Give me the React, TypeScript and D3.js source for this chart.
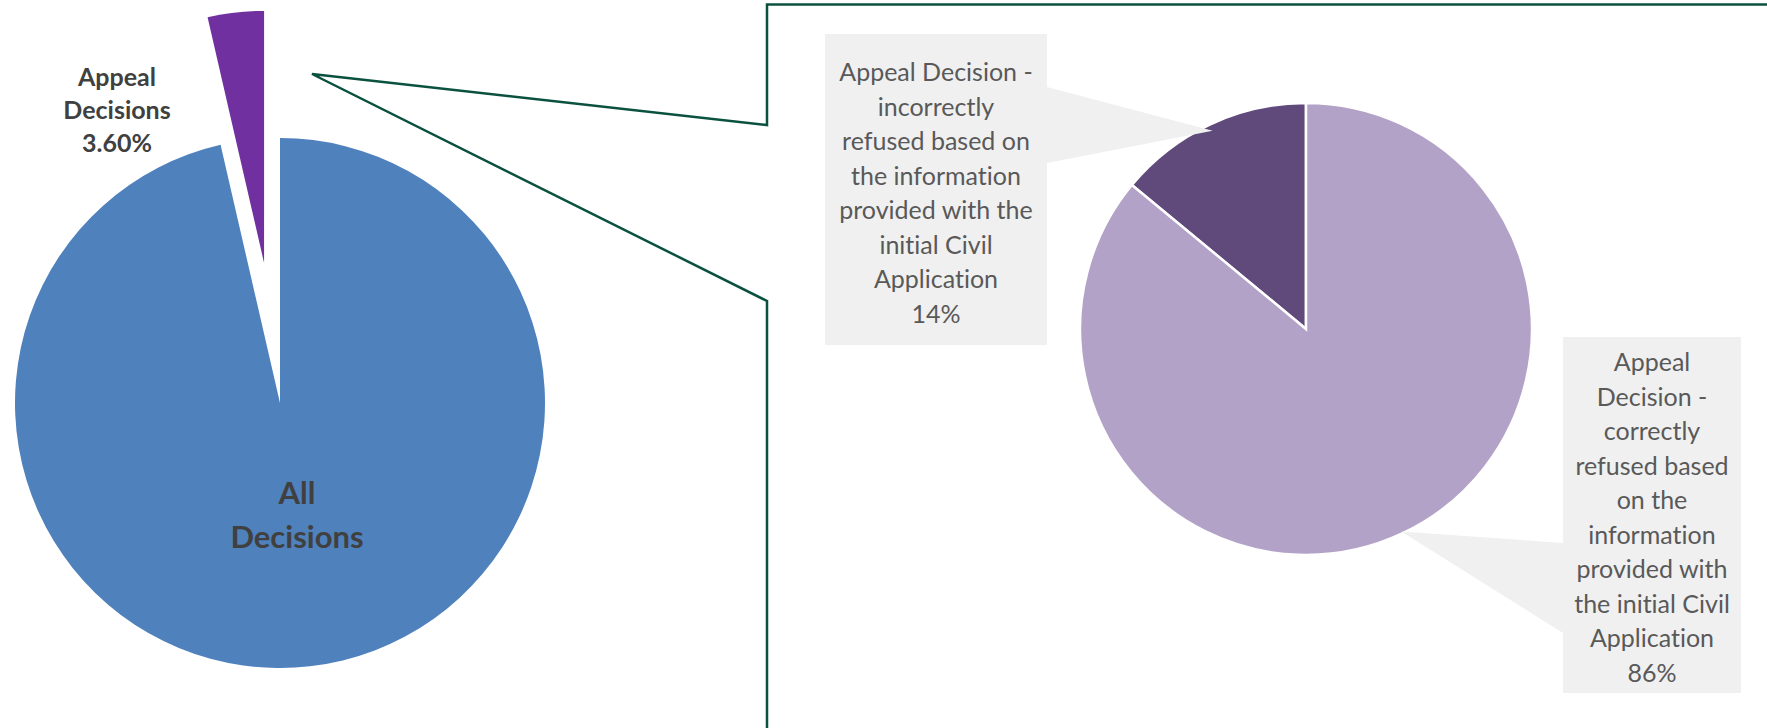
import React from "react";
import * as d3 from "d3";

const mainCategories = ["All Decisions", "Appeal Decisions"];
const mainValues = [96.4, 3.6];
const mainColors = ["#4f81bd", "#7030a0"];

const subCategories = [
  "Appeal Decision - incorrectly refused based on the information provided with the initial Civil Application",
  "Appeal Decision - correctly refused based on the information provided with the initial Civil Application",
];
const subValues = [14, 86];
const subColors = ["#604a7b", "#b3a2c7"];

const subLabelLines = [
  ["Appeal Decision -", "incorrectly", "refused based on", "the information", "provided with the", "initial Civil", "Application", "14%"],
  ["Appeal", "Decision -", "correctly", "refused based", "on the", "information", "provided with", "the initial Civil", "Application", "86%"],
];

const W = 1767;
const H = 728;
const FONT = "Lato, 'Open Sans', sans-serif";

export default function App() {
  // main pie
  const mc = { x: 280, y: 403 };
  const mainR = 265;
  const explodedR = 252;
  const explode = 141;
  const pieMain = d3.pie<number>().sort(null).startAngle(0).endAngle(2 * Math.PI)(mainValues);
  const arcMain = d3.arc<d3.PieArcDatum<number>>().innerRadius(0);

  // sub pie: small slice goes counter-clockwise from the top
  const sc = { x: 1306, y: 329 };
  const subR = 226;
  const subStart = -(subValues[0] / d3.sum(subValues)) * 2 * Math.PI;
  const pieSub = d3.pie<number>().sort(null).startAngle(subStart).endAngle(subStart + 2 * Math.PI)(subValues);
  const arcSub = d3.arc<d3.PieArcDatum<number>>().innerRadius(0).outerRadius(subR);

  const mid = (d: d3.PieArcDatum<number>) => (d.startAngle + d.endAngle) / 2;
  const polar = (a: number, r: number, c: { x: number; y: number }) => [c.x + r * Math.sin(a), c.y - r * Math.cos(a)];

  const boxes = [
    { x0: 825, x1: 1047, y0: 34, y1: 345, first: 72, side: "right", b0: 87, b1: 163, tipR: 0.97 },
    { x0: 1563, x1: 1741, y0: 337, y1: 693, first: 362, side: "left", b0: 543, b1: 633, tipR: 0.99 },
  ];
  const lh = 34.5;
  const fs = 25;
  const txtStyle = { fontVariantLigatures: "none" as const };

  return (
    <svg width={W} height={H} style={{ position: "absolute", left: 0, top: 0, display: "block", background: "#fff" }}>
      {/* main pie */}
      {pieMain.map((d, i) => {
        const isExp = i === 1;
        const off = isExp ? polar(mid(d), explode, { x: 0, y: 0 }) : [0, 0];
        return (
          <path
            key={mainCategories[i]}
            d={arcMain.outerRadius(isExp ? explodedR : mainR)(d) || ""}
            transform={`translate(${mc.x + off[0]},${mc.y + off[1]})`}
            fill={mainColors[i]}
          />
        );
      })}
      <text x={117} fontFamily={FONT} fontWeight={700} fontSize={25} fill="#404040" textAnchor="middle" style={txtStyle}>
        <tspan x={117} y={86}>Appeal</tspan>
        <tspan x={117} y={119}>Decisions</tspan>
        <tspan x={117} y={152}>{d3.format(".2f")(mainValues[1]) + "%"}</tspan>
      </text>
      <text fontFamily={FONT} fontWeight={700} fontSize={31} fill="#404040" textAnchor="middle" style={txtStyle}>
        <tspan x={297} y={504}>All</tspan>
        <tspan x={297} y={548}>Decisions</tspan>
      </text>

      {/* connector */}
      <path
        d={`M${W},4.5 L767,4.5 L767,125 L312,74 L767,301 L767,${H}`}
        fill="none"
        stroke="#0b5140"
        strokeWidth={2.5}
        strokeLinejoin="miter"
      />

      {/* sub pie */}
      {pieSub.map((d, i) => (
        <path
          key={subCategories[i]}
          d={arcSub(d) || ""}
          transform={`translate(${sc.x},${sc.y})`}
          fill={subColors[i]}
          stroke="#fff"
          strokeWidth={2.5}
        />
      ))}

      {/* callouts */}
      {pieSub.map((d, i) => {
        const b = boxes[i];
        const tip = polar(mid(d), subR * b.tipR, sc);
        const bx = b.side === "right" ? b.x1 : b.x0;
        const wedge = `M${bx},${b.b0} L${tip[0]},${tip[1]} L${bx},${b.b1} Z`;
        return (
          <g key={"lab" + i}>
            <path d={wedge} fill="#f0f0f0" />
            <rect x={b.x0} y={b.y0} width={b.x1 - b.x0} height={b.y1 - b.y0} fill="#f0f0f0" />
            <text fontFamily={FONT} fontSize={fs} fill="#595959" textAnchor="middle" style={txtStyle}>
              {subLabelLines[i].map((ln, j) => (
                <tspan key={j} x={(b.x0 + b.x1) / 2} y={b.first + j * lh + fs * 0.36}>
                  {ln}
                </tspan>
              ))}
            </text>
          </g>
        );
      })}
    </svg>
  );
}
